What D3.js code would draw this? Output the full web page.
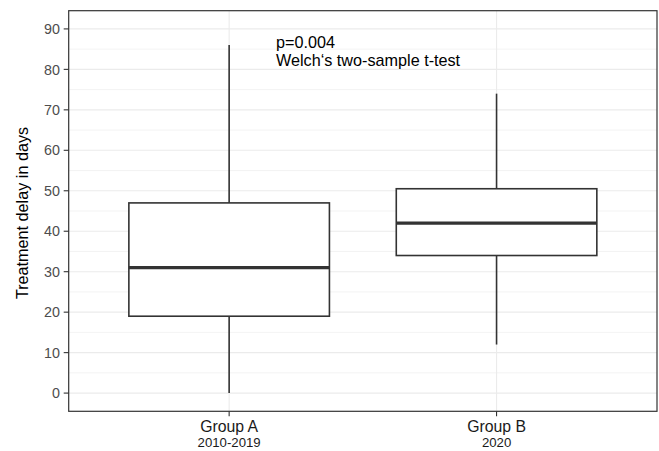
<!DOCTYPE html>
<html><head><meta charset="utf-8">
<script src="https://cdn.jsdelivr.net/npm/d3@7"></script>
<style>body{margin:0;background:#fff}svg{display:block}text{font-family:"Liberation Sans",Arial,sans-serif}</style>
</head><body><svg id="c" width="659" height="451"></svg>
<script>
const groups = ["Group A", "Group B"];
const subLabels = ["2010-2019", "2020"];
const whiskerLow = [0, 12];
const q1 = [19, 34];
const median = [31, 42];
const q3 = [47, 50.5];
const whiskerHigh = [86, 74];
const yTicks = [0, 10, 20, 30, 40, 50, 60, 70, 80, 90];
const yMinor = [5, 15, 25, 35, 45, 55, 65, 75, 85];
const annotation = ["p=0.004", "Welch\u2018s two-sample t-test"];

const svg = d3.select("#c");
const L = 68.7, R = 657, T = 10.7, B = 411.3;
const y = d3.scaleLinear().domain([-4.5, 94.5]).range([B, T]);
const x = d3.scaleLinear().domain([0.4, 2.6]).range([L, R]);
const boxW = 0.75;

const g = svg.append("g");
g.selectAll(".mn").data(yMinor).enter().append("line")
  .attr("x1", L).attr("x2", R).attr("y1", d => y(d)).attr("y2", d => y(d))
  .attr("stroke", "#ebebeb").attr("stroke-width", 0.6);
g.selectAll(".mj").data(yTicks).enter().append("line")
  .attr("x1", L).attr("x2", R).attr("y1", d => y(d)).attr("y2", d => y(d))
  .attr("stroke", "#ebebeb").attr("stroke-width", 1.1);
g.selectAll(".vx").data(groups).enter().append("line")
  .attr("x1", (d, i) => x(i + 1)).attr("x2", (d, i) => x(i + 1)).attr("y1", T).attr("y2", B)
  .attr("stroke", "#ebebeb").attr("stroke-width", 1.1);

groups.forEach((gname, i) => {
  const cx = x(i + 1), hw = (x(1 + boxW / 2) - x(1));
  g.append("line").attr("x1", cx).attr("x2", cx).attr("y1", y(q3[i])).attr("y2", y(whiskerHigh[i]))
    .attr("stroke", "#333333").attr("stroke-width", 1.6);
  g.append("line").attr("x1", cx).attr("x2", cx).attr("y1", y(q1[i])).attr("y2", y(whiskerLow[i]))
    .attr("stroke", "#333333").attr("stroke-width", 1.6);
  g.append("rect").attr("x", cx - hw).attr("width", 2 * hw)
    .attr("y", y(q3[i])).attr("height", y(q1[i]) - y(q3[i]))
    .attr("fill", "#fff").attr("stroke", "#333333").attr("stroke-width", 1.6);
  g.append("line").attr("x1", cx - hw).attr("x2", cx + hw).attr("y1", y(median[i])).attr("y2", y(median[i]))
    .attr("stroke", "#333333").attr("stroke-width", 3.2);
});

svg.append("text").attr("x", 276).attr("y", 47.5).attr("font-size", 16.2).attr("fill", "#000").text(annotation[0]);
svg.append("text").attr("x", 276).attr("y", 65.5).attr("font-size", 16.2).attr("fill", "#000").text(annotation[1]);

svg.append("rect").attr("x", L).attr("y", T).attr("width", R - L).attr("height", B - T)
  .attr("fill", "none").attr("stroke", "#333333").attr("stroke-width", 1.2);

const ya = svg.append("g");
yTicks.forEach(t => {
  ya.append("line").attr("x1", L - 5).attr("x2", L).attr("y1", y(t)).attr("y2", y(t)).attr("stroke", "#333333").attr("stroke-width", 1.1);
  ya.append("text").attr("x", 60).attr("y", y(t)).attr("dy", "0.36em").attr("text-anchor", "end")
    .attr("font-size", 14.3).attr("fill", "#4d4d4d").text(t);
});
groups.forEach((gname, i) => {
  const cx = x(i + 1);
  svg.append("line").attr("x1", cx).attr("x2", cx).attr("y1", B).attr("y2", B + 5).attr("stroke", "#333333").attr("stroke-width", 1.1);
  svg.append("text").attr("x", cx).attr("y", 431.8).attr("text-anchor", "middle").attr("font-size", 15.8).attr("fill", "#1a1a1a").text(gname);
  svg.append("text").attr("x", cx).attr("y", 447).attr("text-anchor", "middle").attr("font-size", 13.2).attr("fill", "#1a1a1a").text(subLabels[i]);
});
svg.append("text").attr("transform", `translate(28,213) rotate(-90)`).attr("text-anchor", "middle")
  .attr("font-size", 16.2).attr("fill", "#000").text("Treatment delay in days");
</script></body></html>
